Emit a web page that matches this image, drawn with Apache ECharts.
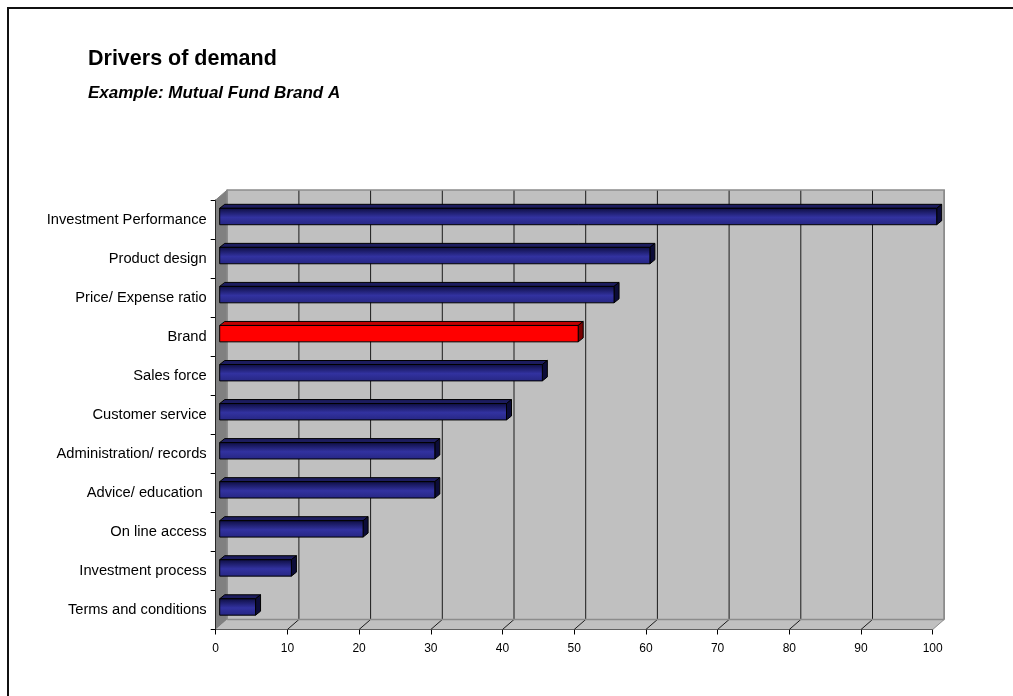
<!DOCTYPE html>
<html><head><meta charset="utf-8">
<script src="https://cdn.jsdelivr.net/npm/echarts@6/dist/echarts.min.js"></script>
<style>html,body{margin:0;padding:0;background:#fff}#c{width:1013px;height:696px}</style>
</head><body><div id="c"></div>
<script>
const categories = ['Investment Performance','Product design','Price/ Expense ratio','Brand','Sales force','Customer service','Administration/ records','Advice/ education ','On line access','Investment process','Terms and conditions'];
const values = [100, 60, 55, 50, 45, 40, 30, 30, 20, 10, 5];
const highlighted = ['Brand'];
const xTicks = [0, 10, 20, 30, 40, 50, 60, 70, 80, 90, 100];
const titleText = 'Drivers of demand';
const subtitleText = 'Example: Mutual Fund Brand A';

const FONT = '"Liberation Sans", Arial, sans-serif';
const DX = 11.5, DY = -10;   // wall depth
const BX = 4, BY = -3;       // bar front offset
const BDX = 5, BDY = -4;     // bar depth
const XMAX = xTicks[xTicks.length - 1];

const chart = echarts.init(document.getElementById('c'), null, {renderer: 'canvas'});

function renderWalls(params, api) {
  const band = api.size([0, 1])[1];
  const c0 = api.coord([0, 0]);
  const cN = api.coord([0, categories.length - 1]);
  const xL = c0[0], xR = api.coord([XMAX, 0])[0];
  const yT = c0[1] - band / 2, yB = cN[1] + band / 2;
  const ch = [];
  ch.push({type: 'rect', shape: {x: xL + DX, y: yT + DY, width: xR - xL, height: yB - yT},
    style: {fill: '#c0c0c0', stroke: null}});
  ch.push({type: 'polygon', shape: {points: [[xL, yB], [xR, yB], [xR + DX, yB + DY], [xL + DX, yB + DY]]},
    style: {fill: '#c0c0c0', stroke: null}});
  ch.push({type: 'polygon', shape: {points: [[xL, yT], [xL + DX, yT + DY], [xL + DX, yB + DY], [xL, yB]]},
    style: {fill: '#808080', stroke: null}});
  xTicks.forEach(t => {
    const x = api.coord([t, 0])[0];
    const inner = t !== 0 && t !== XMAX;
    const col = inner ? '#1a1a1a' : '#8c8c8c';
    if (t !== 0) {
      ch.push({type: 'line', shape: {x1: x + DX, y1: yT + DY, x2: x + DX, y2: yB + DY},
        style: {stroke: col, lineWidth: inner ? 1 : 1.5}});
      ch.push({type: 'line', shape: {x1: x, y1: yB, x2: x + DX, y2: yB + DY},
        style: {stroke: col, lineWidth: 1}});
    }
  });
  ch.push({type: 'polyline', shape: {points: [[xL + DX, yB + DY], [xL + DX, yT + DY], [xR + DX, yT + DY], [xR + DX, yB + DY]]},
    style: {stroke: '#8c8c8c', lineWidth: 1.5, fill: null}});
  ch.push({type: 'line', shape: {x1: xL + DX, y1: yB + DY, x2: xR + DX, y2: yB + DY},
    style: {stroke: '#8c8c8c', lineWidth: 1.5}});
  ch.push({type: 'line', shape: {x1: xL, y1: yT, x2: xL + DX, y2: yT + DY},
    style: {stroke: '#808080', lineWidth: 1}});
  return {type: 'group', children: ch};
}

function renderBar(params, api) {
  const v = api.value(0), idx = api.value(1);
  const p0 = api.coord([0, idx]), p1 = api.coord([v, idx]);
  const band = api.size([0, 1])[1];
  const h = band * 0.42;
  const x0 = p0[0] + BX, x1 = p1[0] + BX;
  const yc = p0[1] + BY;
  const yt = yc - h / 2, yb = yc + h / 2;
  const red = highlighted.indexOf(categories[idx]) >= 0;
  const front = red ? '#ff0000' : {type: 'linear', x: 0, y: 0, x2: 0, y2: 1, colorStops: [
    {offset: 0, color: '#0d0d40'}, {offset: 0.55, color: '#3232a0'}, {offset: 1, color: '#262682'}]};
  const top = red ? '#c00000' : '#1c1c5e';
  const side = red ? '#7a0000' : '#0c0c38';
  return {type: 'group', children: [
    {type: 'polygon', shape: {points: [[x0, yt], [x1, yt], [x1 + BDX, yt + BDY], [x0 + BDX, yt + BDY]]},
      style: {fill: top, stroke: '#000', lineWidth: 1}},
    {type: 'polygon', shape: {points: [[x1, yt], [x1 + BDX, yt + BDY], [x1 + BDX, yb + BDY], [x1, yb]]},
      style: {fill: side, stroke: '#000', lineWidth: 1}},
    {type: 'rect', shape: {x: x0, y: yt, width: x1 - x0, height: h},
      style: {fill: front, stroke: '#000', lineWidth: 1}}
  ]};
}

const option = {
  animation: false,
  backgroundColor: '#ffffff',
  textStyle: {fontFamily: FONT},
  title: [
    {text: titleText, left: 83, top: 43, textStyle: {fontFamily: FONT, fontSize: 21.5, fontWeight: 'bold', color: '#000'}},
    {text: subtitleText, left: 83, top: 80, textStyle: {fontFamily: FONT, fontSize: 17, fontWeight: 'bold', fontStyle: 'italic', color: '#000'}}
  ],
  graphic: [
    {type: 'rect', shape: {x: 8, y: 8, width: 1200, height: 900}, style: {fill: null, stroke: '#111', lineWidth: 2}, silent: true, z: 100}
  ],
  grid: {left: 215.7, right: 80.3, top: 200, bottom: 66.5, containLabel: false},
  xAxis: {
    type: 'value', min: 0, max: XMAX, interval: 10,
    axisLine: {show: true, lineStyle: {color: '#000', width: 1}},
    axisTick: {show: true, length: 5, lineStyle: {color: '#000'}},
    axisLabel: {fontFamily: FONT, fontSize: 12, color: '#000', margin: 13},
    splitLine: {show: false}
  },
  yAxis: {
    type: 'category', data: categories, inverse: true,
    axisLine: {show: true, lineStyle: {color: '#000', width: 1}},
    axisTick: {show: true, length: 5, lineStyle: {color: '#000'}},
    axisLabel: {fontFamily: FONT, fontSize: 14.7, color: '#000', margin: 9},
    splitLine: {show: false}
  },
  series: [
    {type: 'custom', name: 'walls', renderItem: renderWalls, data: [[0, 0]], encode: {x: 0, y: 1}, z: 1, silent: true, clip: false},
    {type: 'custom', name: 'bars', renderItem: renderBar, data: values.map((v, i) => [v, i]), encode: {x: 0, y: 1}, z: 3, clip: false}
  ]
};
chart.setOption(option);
</script></body></html>
